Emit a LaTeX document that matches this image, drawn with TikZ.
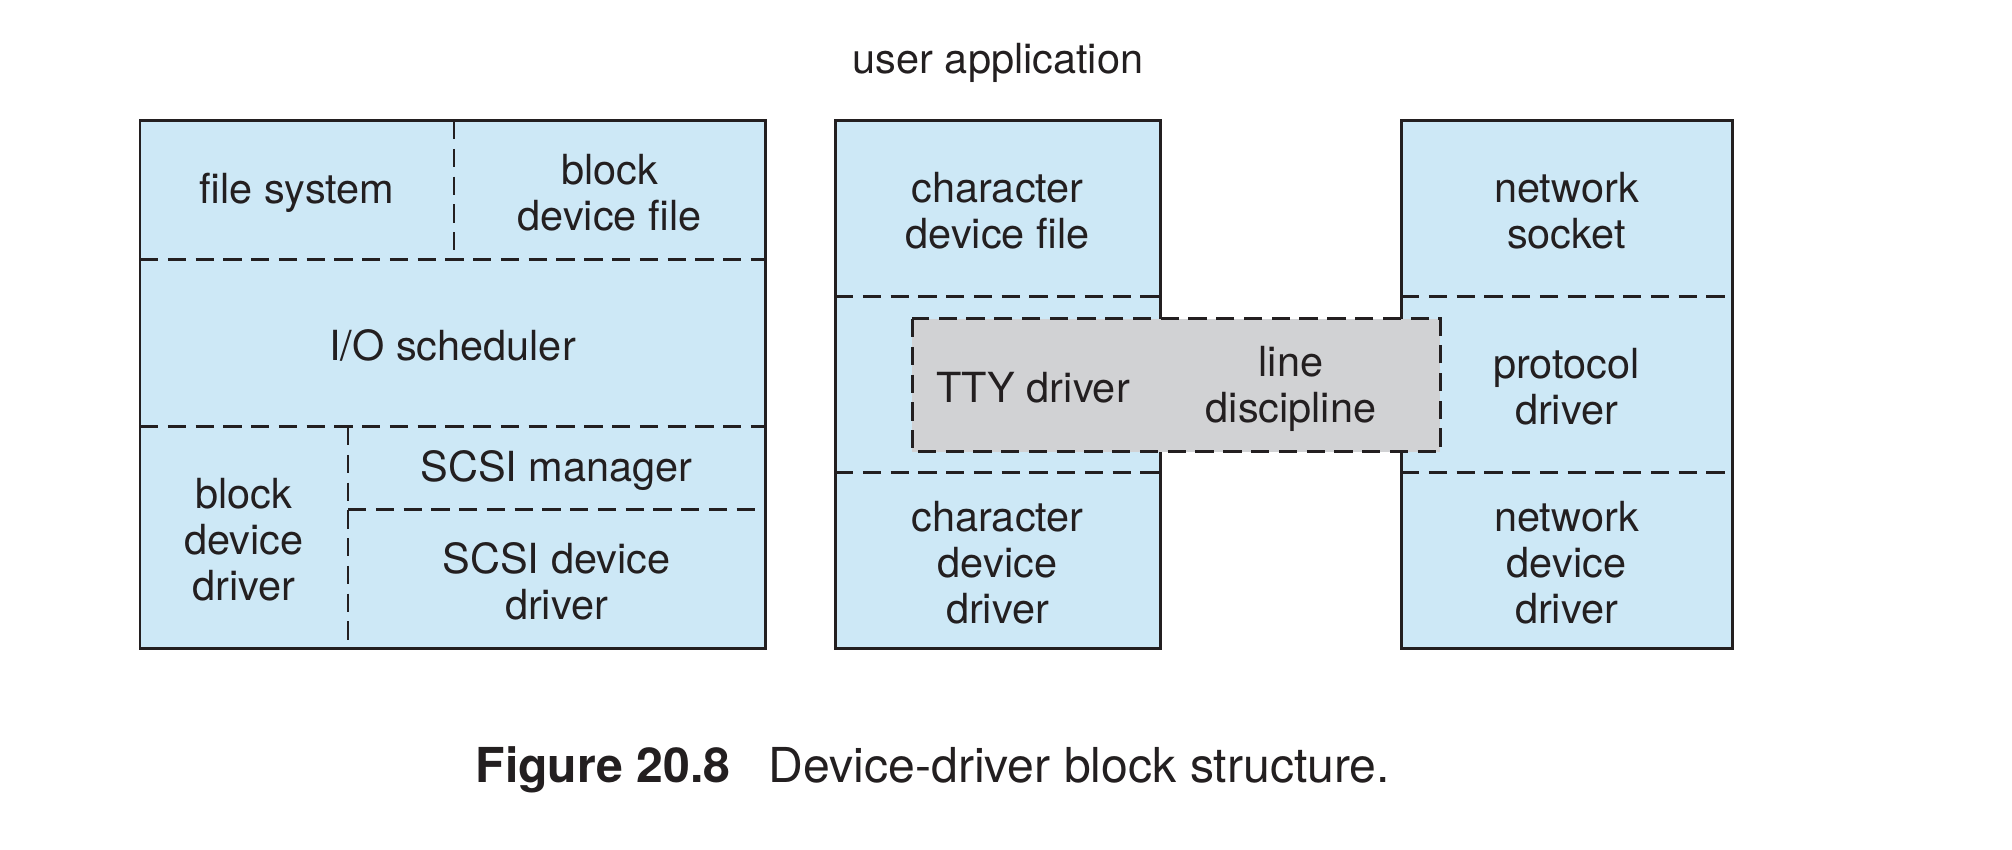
\documentclass[tikz,border=0pt]{standalone}
\usepackage{fontspec}
\setmainfont{TeX Gyre Heros}
\definecolor{lyseblaa}{HTML}{CDE8F6}
\definecolor{graa}{HTML}{D1D2D4}
\definecolor{linje}{HTML}{231F20}
\tikzset{
  blokk/.style={draw=linje, fill=lyseblaa, line width=0.85pt},
  skille/.style={draw=linje, line width=0.85pt, dash pattern=on 5.2pt off 2.7pt},
  tekst/.style={align=center, inner sep=0pt, text=linje, font=\fontsize{11.8}{13.1}\selectfont},
}
\begin{document}
\begin{tikzpicture}
	\useasboundingbox (0,0) rectangle (20.12,-8.5);
	% Blokkenheter
	\draw[blokk] (1.40,-1.21) rectangle (7.65,-6.49);
	\draw[skille] (4.54,-1.21) -- (4.54,-2.60);
	\draw[skille] (1.40,-2.60) -- (7.65,-2.60);
	\draw[skille] (1.40,-4.27) -- (7.65,-4.27);
	\draw[skille] (3.48,-4.27) -- (3.48,-6.49);
	\draw[skille] (3.48,-5.10) -- (7.65,-5.10);
	% Tegnenheter og nettverk
	\draw[blokk] (8.35,-1.21) rectangle (11.60,-6.49);
	\draw[skille] (8.35,-2.97) -- (11.60,-2.97);
	\draw[skille] (8.35,-4.73) -- (11.60,-4.73);
	\draw[blokk] (14.01,-1.21) rectangle (17.32,-6.49);
	\draw[skille] (14.01,-2.97) -- (17.32,-2.97);
	\draw[skille] (14.01,-4.73) -- (17.32,-4.73);
	% TTY-lag over begge
	\draw[skille, fill=graa] (9.12,-3.19) rectangle (14.40,-4.52);
	% Tekster
	\node[tekst, anchor=base] (bruker) at (9.98,-0.74) {user application};
	\node[tekst] (filsystem) at (2.97,-1.93) {file system};
	\node[tekst] (blokkfil) at (6.095,-1.93) {block\\device file};
	\node[tekst] (planlegger) at (4.525,-3.455) {I/O scheduler};
	\node[tekst] (blokkdriver) at (2.44,-5.40) {block\\device\\driver};
	\node[tekst] (scsiman) at (5.565,-4.71) {SCSI manager};
	\node[tekst] (scsidriver) at (5.565,-5.815) {SCSI device\\driver};
	\node[tekst] (tegnfil) at (9.975,-2.11) {character\\device file};
	\node[tekst] (tegndriver) at (9.975,-5.63) {character\\device\\driver};
	\node[tekst] (tty) at (10.33,-3.88) {TTY driver};
	\node[tekst] (linjedisk) at (12.91,-3.89) {line\\discipline};
	\node[tekst] (sokkel) at (15.665,-2.11) {network\\socket};
	\node[tekst] (protokoll) at (15.665,-3.87) {protocol\\driver};
	\node[tekst] (nettdriver) at (15.665,-5.63) {network\\device\\driver};
	% Figurtekst
	\node[anchor=base west, inner sep=0pt, text=linje, font=\fontsize{13.7}{16}\selectfont] (figtekst) at (4.75,-7.83)
		{\textbf{Figure 20.8}\hspace{11pt}Device-driver block structure.};
\end{tikzpicture}
\end{document}
